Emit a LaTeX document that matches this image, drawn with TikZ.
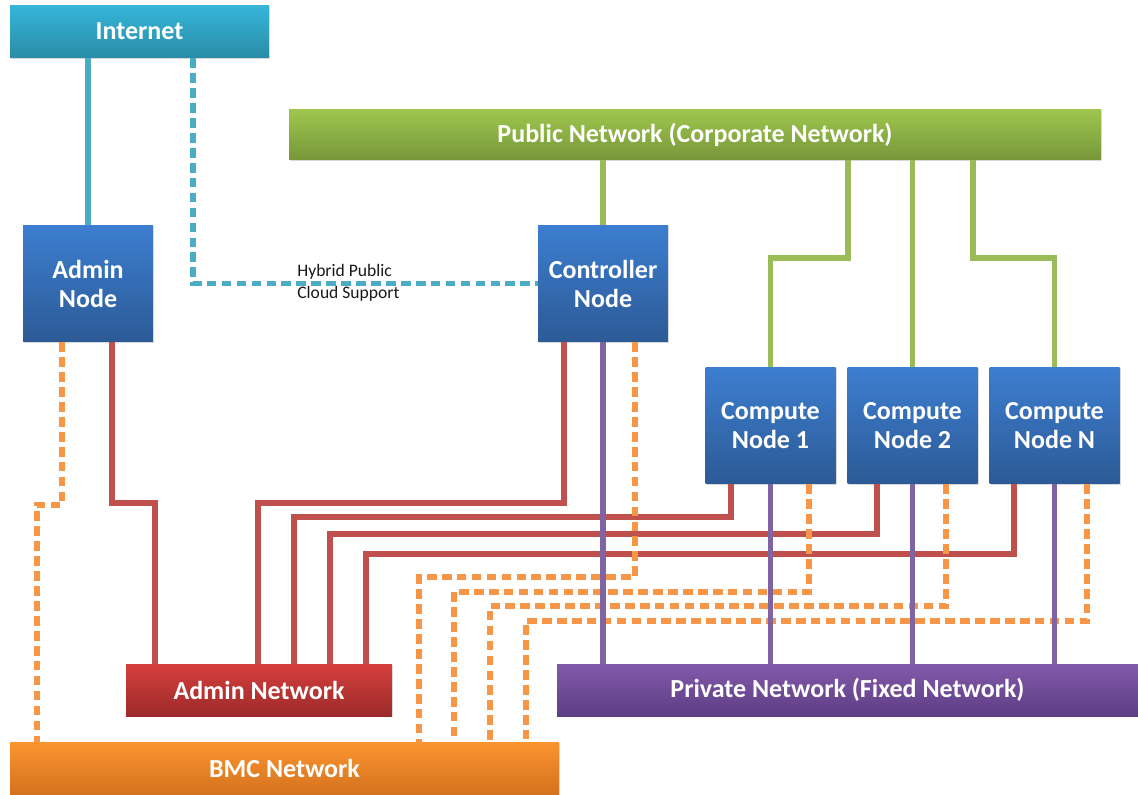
\documentclass[tikz,border=0pt]{standalone}
\usepackage{fontspec}
\setmainfont{Carlito}
\usepackage{tikz}
\usetikzlibrary{shadows}

\definecolor{inetTop}{HTML}{35B6DA}
\definecolor{inetBot}{HTML}{2A8CA6}
\definecolor{pubTop}{HTML}{9FC74E}
\definecolor{pubBot}{HTML}{77963A}
\definecolor{hostTop}{HTML}{3D7ED0}
\definecolor{hostBot}{HTML}{2C5A96}
\definecolor{admTop}{HTML}{D53F3D}
\definecolor{admBot}{HTML}{9C2A2A}
\definecolor{privTop}{HTML}{8259AA}
\definecolor{privBot}{HTML}{5E3E84}
\definecolor{bmcTop}{HTML}{FA952F}
\definecolor{bmcBot}{HTML}{D5721E}
\definecolor{cyanLine}{HTML}{4BACC6}
\definecolor{greenLine}{HTML}{9BBB59}
\definecolor{redLine}{HTML}{C0504D}
\definecolor{purpleLine}{HTML}{8064A2}
\definecolor{orangeLine}{HTML}{F79646}

\begin{document}
\begin{tikzpicture}[x=0.02cm, y=-0.02cm,
	netbox/.style={rectangle, inner sep=0pt, text=white, align=center,
		font=\bfseries\fontsize{14.8}{16.5}\selectfont,
		drop shadow={shadow xshift=0.8pt, shadow yshift=-0.8pt, opacity=0.3}},
	hostbox/.style={netbox, top color=hostTop, bottom color=hostBot, minimum width=2.6cm, minimum height=2.34cm},
	link/.style={line width=3.1pt},
	dlink/.style={link, dash pattern=on 5.5pt off 3pt}]
	\useasboundingbox (0,0) rectangle (1138,794);

	\node (inet) at (139.5,31.5) [netbox, top color=inetTop, bottom color=inetBot, minimum width=5.18cm, minimum height=1.06cm] {Internet};
	\node (pub) at (695,134.5) [netbox, top color=pubTop, bottom color=pubBot, minimum width=16.24cm, minimum height=1.02cm] {Public Network (Corporate Network)};
	\node (admin) at (88,283.5) [hostbox] {Admin\\Node};
	\node (ctrl) at (603,283.5) [hostbox] {Controller\\Node};
	\node (c1) at (770.5,425.5) [hostbox] {Compute\\Node 1};
	\node (c2) at (912.5,425.5) [hostbox] {Compute\\Node 2};
	\node (cn) at (1054.5,425.5) [hostbox] {Compute\\Node N};
	\node (adnet) at (259,690) [netbox, top color=admTop, bottom color=admBot, minimum width=5.32cm, minimum height=1.04cm] {Admin Network};
	\node (priv) at (847.5,690) [netbox, top color=privTop, bottom color=privBot, minimum width=11.62cm, minimum height=1.04cm] {Private Network (Fixed Network)};
	\node (bmc) at (284.5,768) [netbox, top color=bmcTop, bottom color=bmcBot, minimum width=10.98cm, minimum height=1.04cm] {BMC Network};
	\node (hyb) at (297,283) [anchor=west, align=left, inner sep=0pt, text=black!90, font=\fontsize{10}{12.5}\selectfont] {Hybrid Public\\Cloud Support};

	\draw[link, cyanLine] (inet.south -| admin.north) -- (admin.north);
	\draw[dlink, cyanLine] (inet.south -| 193,0) |- (ctrl.west);

	\draw[link, greenLine] (pub.south -| ctrl.north) -- (ctrl.north)
		(pub.south -| 848,0) -- (848,258) -| (c1.north)
		(pub.south -| c2.north) -- (c2.north)
		(pub.south -| 973,0) -- (973,258) -| (cn.north);

	\draw[link, redLine] (admin.south -| 112,0) -- (112,503) -| (adnet.north -| 155,0)
		(ctrl.south -| 564,0) -- (564,503) -| (adnet.north -| 258,0)
		(c1.south -| 731,0) -- (731,517) -| (adnet.north -| 294,0)
		(c2.south -| 877,0) -- (877,534) -| (adnet.north -| 330,0)
		(cn.south -| 1014,0) -- (1014,554) -| (adnet.north -| 366,0);

	\draw[dlink, orangeLine] (admin.south -| 62,0) -- (62,505) -- (37,505) -- (bmc.north -| 37,0)
		(ctrl.south -| 635,0) -- (635,577) -| (bmc.north -| 419,0)
		(c1.south -| 809,0) -- (809,592) -| (bmc.north -| 454,0)
		(c2.south -| 946,0) -- (946,606) -| (bmc.north -| 490,0)
		(cn.south -| 1087,0) -- (1087,621) -| (bmc.north -| 526,0);

	\draw[link, purpleLine] (ctrl.south) -- (priv.north -| ctrl.south)
		(c1.south) -- (priv.north -| c1.south)
		(c2.south) -- (priv.north -| c2.south)
		(cn.south) -- (priv.north -| cn.south);
\end{tikzpicture}
\end{document}
